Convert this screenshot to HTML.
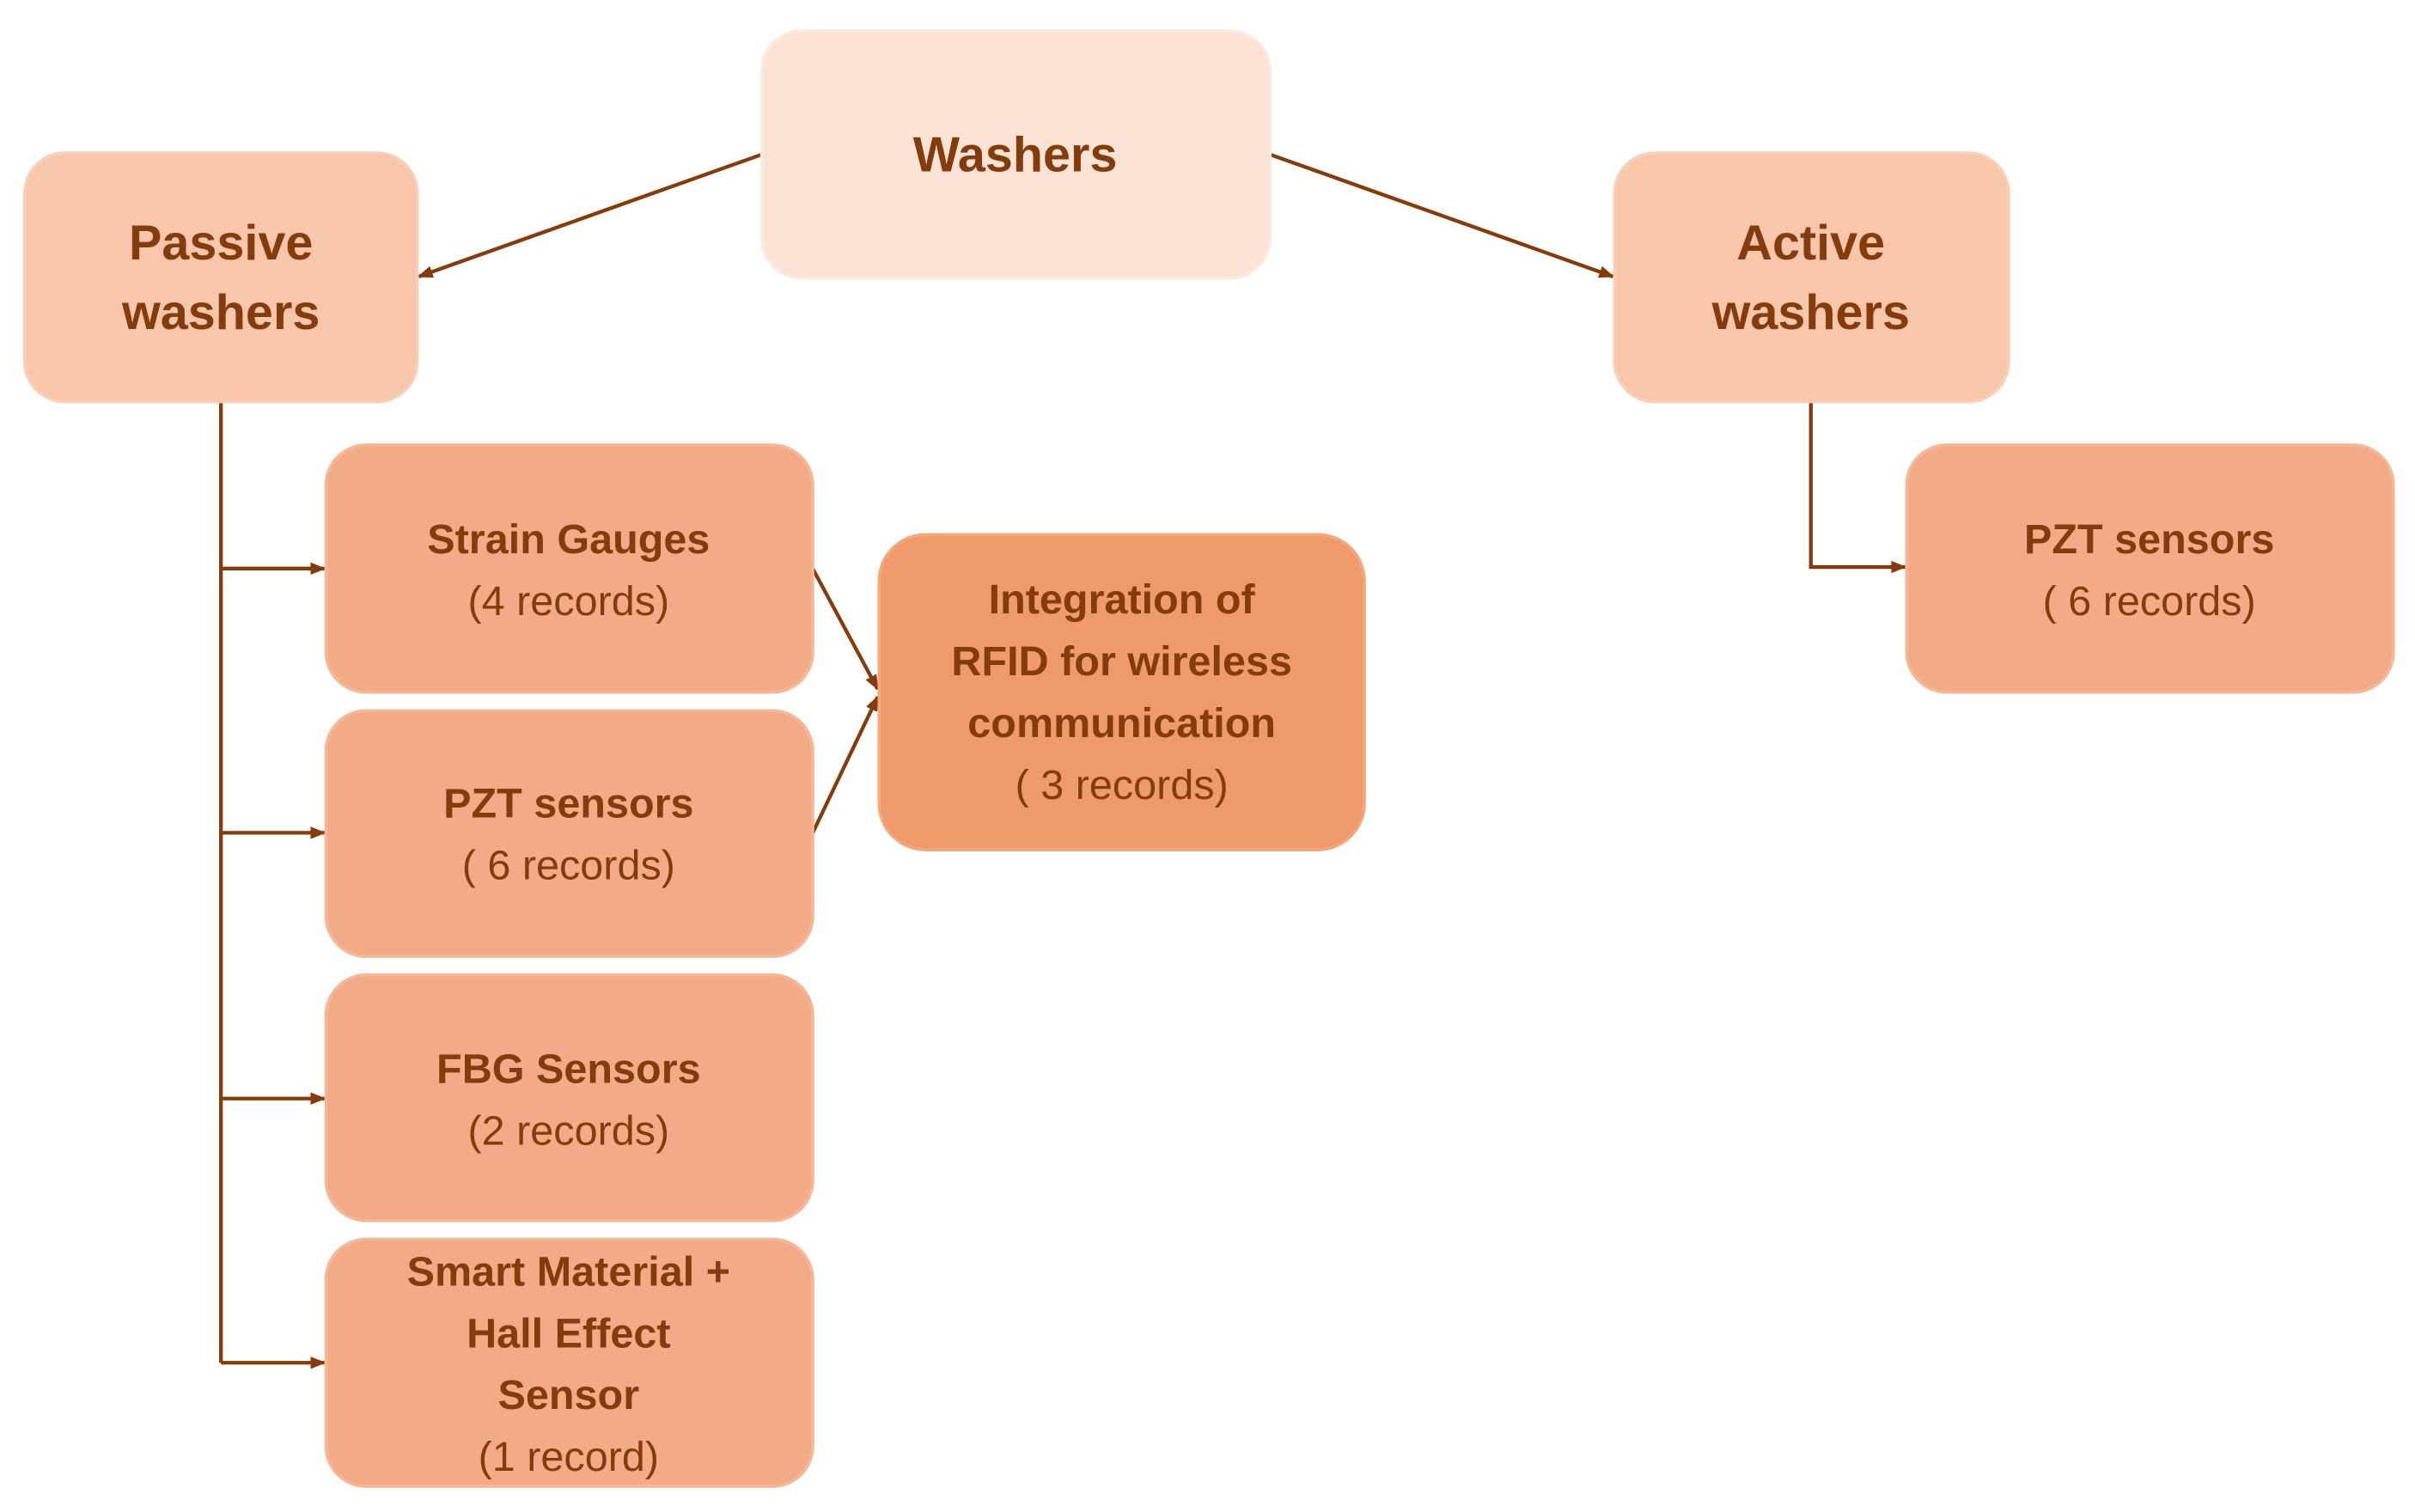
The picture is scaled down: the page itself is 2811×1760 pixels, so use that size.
<!DOCTYPE html>
<html><head><meta charset="utf-8"><style>
html,body{margin:0;padding:0;background:#fff;}
svg{display:block;}
text{font-family:"Liberation Sans",sans-serif;fill:#843c0c;text-anchor:middle;}
.b{font-weight:bold;}
</style></head><body>
<svg width="2811" height="1760" viewBox="0 0 1563 978.6" preserveAspectRatio="none" xmlns="http://www.w3.org/2000/svg">
<defs><marker id="a" markerWidth="10" markerHeight="10" refX="9" refY="5" orient="auto" markerUnits="userSpaceOnUse"><path d="M0,1 L10,5 L0,9 Z" fill="#843c0c"/></marker></defs>
<g stroke="#843c0c" stroke-width="2.4" fill="none">
<line x1="493" y1="100" x2="271" y2="179" marker-end="url(#a)"/>
<line x1="822" y1="100" x2="1044" y2="179" marker-end="url(#a)"/>
<polyline points="143,260 143,882"/>
<line x1="143" y1="368" x2="210" y2="368" marker-end="url(#a)"/>
<line x1="143" y1="539" x2="210" y2="539" marker-end="url(#a)"/>
<line x1="143" y1="711" x2="210" y2="711" marker-end="url(#a)"/>
<line x1="143" y1="882" x2="210" y2="882" marker-end="url(#a)"/>
<polyline points="1172,260 1172,367 1233,367" marker-end="url(#a)"/>
<line x1="526" y1="368" x2="568" y2="446" marker-end="url(#a)"/>
<line x1="526" y1="539" x2="568" y2="451" marker-end="url(#a)"/>
</g>
<g stroke-width="2">
<rect x="493" y="20" width="329" height="160" rx="26" fill="#fce3d6" stroke="#fde9de"/>
<rect x="16" y="99" width="254" height="161" rx="26" fill="#f7c6ab" stroke="#f9cfb8"/>
<rect x="1045" y="99" width="255" height="161" rx="26" fill="#f7c6ab" stroke="#f9cfb8"/>
<rect x="211" y="288" width="315" height="160" rx="26" fill="#f2ab86" stroke="#f5b797"/>
<rect x="211" y="460" width="315" height="159" rx="26" fill="#f2ab86" stroke="#f5b797"/>
<rect x="211" y="631" width="315" height="159" rx="26" fill="#f2ab86" stroke="#f5b797"/>
<rect x="211" y="802" width="315" height="160" rx="26" fill="#f2ab86" stroke="#f5b797"/>
<rect x="569" y="346" width="314" height="204" rx="30" fill="#ef9a6a" stroke="#f3a77d"/>
<rect x="1234" y="288" width="315" height="160" rx="26" fill="#f2ab86" stroke="#f5b797"/>
</g>
<text class="b" x="657" y="111" font-size="32">Washers</text>
<text class="b" x="143" y="168" font-size="32">Passive</text>
<text class="b" x="143" y="213" font-size="32">washers</text>
<text class="b" x="1172" y="168" font-size="32">Active</text>
<text class="b" x="1172" y="213" font-size="32">washers</text>
<text class="b" x="368" y="358" font-size="27">Strain Gauges</text>
<text x="368" y="398" font-size="27">(4 records)</text>
<text class="b" x="368" y="529" font-size="27">PZT sensors</text>
<text x="368" y="569" font-size="27">( 6 records)</text>
<text class="b" x="368" y="701" font-size="27">FBG Sensors</text>
<text x="368" y="741" font-size="27">(2 records)</text>
<text class="b" x="368" y="832" font-size="27">Smart Material +</text>
<text class="b" x="368" y="872" font-size="27">Hall Effect</text>
<text class="b" x="368" y="912" font-size="27">Sensor</text>
<text x="368" y="952" font-size="27">(1 record)</text>
<text class="b" x="726" y="397" font-size="27">Integration of</text>
<text class="b" x="726" y="437" font-size="27">RFID for wireless</text>
<text class="b" x="726" y="477" font-size="27">communication</text>
<text x="726" y="517" font-size="27">( 3 records)</text>
<text class="b" x="1391" y="358" font-size="27">PZT sensors</text>
<text x="1391" y="398" font-size="27">( 6 records)</text>
</svg>
</body></html>
